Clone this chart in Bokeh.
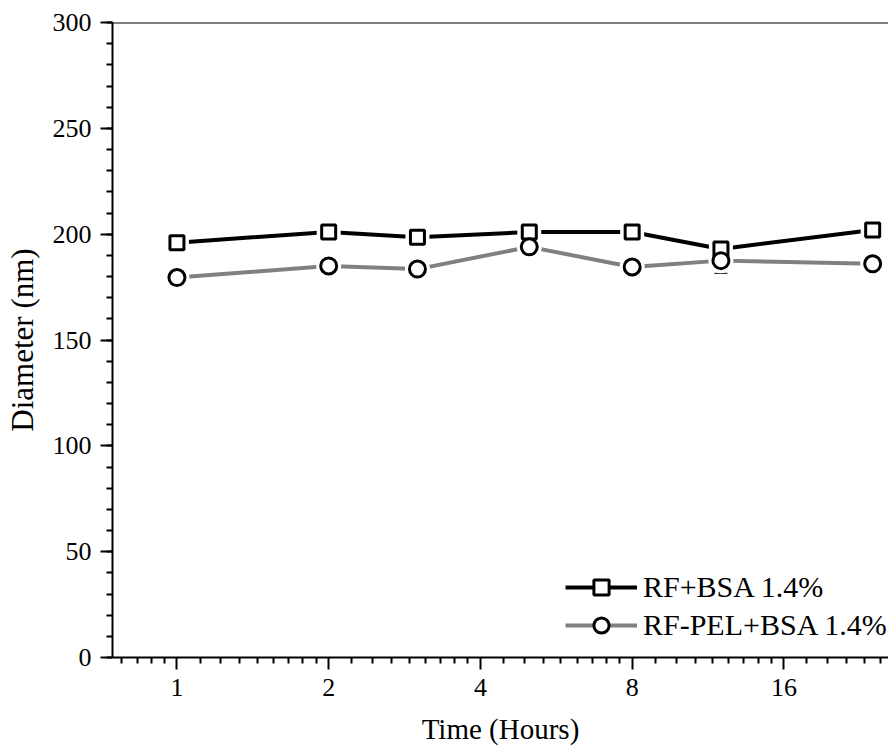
from bokeh.plotting import figure
from bokeh.models import (Range1d, FixedTicker, Legend, LegendItem, Whisker, Span,
                          ColumnDataSource, TeeHead, NumeralTickFormatter)
from bokeh.embed import file_html
from bokeh.resources import INLINE

# ---- data ----
hours = [1, 2, 3, 5, 8, 12, 24]
rf_bsa = [196, 201, 198.5, 201, 201, 193, 202]
rf_bsa_err = [1, 1, 1, 2, 1, 3, 2]
rf_pel_bsa = [179.5, 185, 183.5, 194, 184.5, 187.5, 186]
rf_pel_bsa_err = [1, 1, 1.5, 1, 2.5, 6, 1]
x_ticks = [1, 2, 4, 8, 16]
y_ticks = [0, 50, 100, 150, 200, 250, 300]
series_labels = ["RF+BSA 1.4%", "RF-PEL+BSA 1.4%"]

FONT = "Liberation Serif"

# Origin-style minor ticks: 8 per octave, linearly spaced
minor_x = [b * (1 + k / 9) for b in [0.5, 1, 2, 4, 8, 16] for k in range(1, 9)]
minor_y = list(range(0, 301, 10))

src = ColumnDataSource(dict(
    hours=hours,
    a=rf_bsa,
    a_up=[v + e for v, e in zip(rf_bsa, rf_bsa_err)],
    a_lo=[v - e for v, e in zip(rf_bsa, rf_bsa_err)],
    b=rf_pel_bsa,
    b_up=[v + e for v, e in zip(rf_pel_bsa, rf_pel_bsa_err)],
    b_lo=[v - e for v, e in zip(rf_pel_bsa, rf_pel_bsa_err)],
))

p = figure(width=888, height=749, x_axis_type="log",
           x_range=Range1d(0.745, 25.8), y_range=Range1d(0, 300),
           output_backend="svg", toolbar_location=None,
           min_border_left=112, min_border_right=0,
           min_border_top=22, min_border_bottom=92)
p.outline_line_color = None
p.xgrid.visible = False
p.ygrid.visible = False
p.background_fill_color = "white"
p.border_fill_color = "white"

# axes styling
for ax in (p.xaxis[0], p.yaxis[0]):
    ax.axis_line_width = 2
    ax.axis_line_color = "black"
    ax.major_tick_line_width = 2
    ax.minor_tick_line_width = 2
    ax.major_tick_out = 12
    ax.major_tick_in = 0
    ax.minor_tick_out = 6
    ax.minor_tick_in = 0
    ax.major_label_text_font = FONT
    ax.major_label_text_font_size = "26px"
    ax.major_label_text_color = "black"
    ax.axis_label_text_font = FONT
    ax.axis_label_text_font_style = "normal"
    ax.axis_label_text_color = "black"

p.xaxis.ticker = FixedTicker(ticks=x_ticks, minor_ticks=minor_x)
p.xaxis.formatter = NumeralTickFormatter(format="0")
p.xaxis.axis_label = "Time (Hours)"
p.xaxis.axis_label_text_font_size = "29px"
p.xaxis.major_label_standoff = 9
p.xaxis.axis_label_standoff = 14

p.yaxis.ticker = FixedTicker(ticks=y_ticks, minor_ticks=minor_y)
p.yaxis.axis_label = "Diameter (nm)"
p.yaxis.axis_label_text_font_size = "31px"
p.yaxis.major_label_standoff = 9
p.yaxis.axis_label_standoff = 10

# top frame line
p.add_layout(Span(location=300, dimension="width", line_color="black", line_width=2))

# lines
la = p.line("hours", "a", source=src, line_color="black", line_width=4)
lb = p.line("hours", "b", source=src, line_color="#808080", line_width=4)

# white halos to give the Origin-style gap between lines and markers
p.scatter("hours", "a", source=src, marker="square", size=24, fill_color="white", line_color=None)
p.scatter("hours", "b", source=src, marker="circle", size=25, fill_color="white", line_color=None)

# error bars
for up, lo in (("a_up", "a_lo"), ("b_up", "b_lo")):
    p.add_layout(Whisker(base="hours", upper=up, lower=lo, source=src,
                         line_color="black", line_width=1,
                         upper_head=TeeHead(size=13, line_width=1, line_color="black"),
                         lower_head=TeeHead(size=13, line_width=1, line_color="black")))

sa = p.scatter("hours", "a", source=src, marker="square", size=14,
               fill_color="white", line_color="black", line_width=3)
sb = p.scatter("hours", "b", source=src, marker="circle", size=16,
               fill_color="white", line_color="black", line_width=3)

legend = Legend(items=[LegendItem(label=series_labels[0], renderers=[la, sa]),
                       LegendItem(label=series_labels[1], renderers=[lb, sb])],
                location=(453, 13), padding=0, margin=0, spacing=0,
                label_standoff=6, glyph_width=72, glyph_height=38, label_height=37,
                label_text_font=FONT, label_text_font_size="30px", label_text_color="black",
                border_line_color=None, background_fill_alpha=0)
p.add_layout(legend)

open("out.html", "w").write(file_html(p, INLINE))
